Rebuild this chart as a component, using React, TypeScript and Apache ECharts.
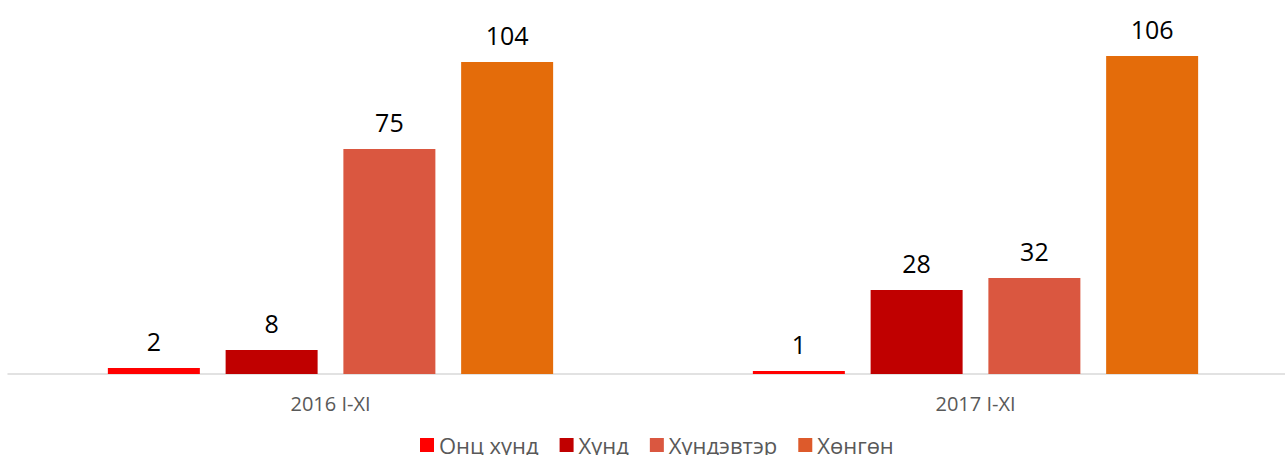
import React, { useEffect, useRef } from "react";
import * as echarts from "echarts";

const categories = ["2016 I-XI", "2017 I-XI"];
const seriesNames = ["Онц хүнд", "Хүнд", "Хүндэвтэр", "Хөнгөн"];
const onts = [2, 1];
const khund = [8, 28];
const khundevter = [75, 32];
const khongon = [104, 106];
const seriesValues = [onts, khund, khundevter, khongon];
const barColors = ["#FF0000", "#C00000", "#DA5740", "#E46C0A"];
const legendColors = ["#FF0000", "#C00000", "#DA5740", "#DD5A2B"];

export default function App() {
  const ref = useRef<HTMLDivElement>(null);
  useEffect(() => {
    if (!ref.current) return;
    const chart = echarts.init(ref.current, undefined, { renderer: "svg" });
    const font = "'Open Sans', 'Noto Sans', sans-serif";
    chart.setOption({
      animation: false,
      textStyle: { fontFamily: font },
      grid: { left: 8, right: 2, top: 14, bottom: 81, containLabel: false },
      legend: {
        left: 415,
        top: 429,
        itemWidth: 14,
        itemHeight: 14,
        itemGap: 21,
        icon: "rect",
        textStyle: { color: "#595959", fontSize: 22, fontFamily: font },
        data: seriesNames.map((n, i) => ({ name: n, itemStyle: { color: legendColors[i] } })),
      },
      xAxis: {
        type: "category",
        data: categories,
        axisLine: { show: true, lineStyle: { color: "#D9D9D9", width: 1.5 } },
        axisTick: { show: false },
        axisLabel: { color: "#595959", fontSize: 20, fontFamily: font, margin: 19 },
      },
      yAxis: {
        type: "value",
        min: 0,
        max: 120,
        show: false,
        splitLine: { show: false },
      },
      series: seriesValues.map((vals, i) => ({
        name: seriesNames[i],
        type: "bar",
        data: vals,
        barWidth: 92,
        barGap: "28%",
        itemStyle: { color: barColors[i] },
        label: {
          show: true,
          position: "top",
          distance: 15,
          color: "#000000",
          fontSize: 25,
          fontFamily: font,
        },
      })),
    });
    return () => chart.dispose();
  }, []);
  return (
    <div style={{ position: "fixed", left: 0, top: 0, width: 1285, height: 455, overflow: "hidden", background: "#fff" }}>
      <div ref={ref} style={{ width: 1300, height: 455 }} />
    </div>
  );
}
